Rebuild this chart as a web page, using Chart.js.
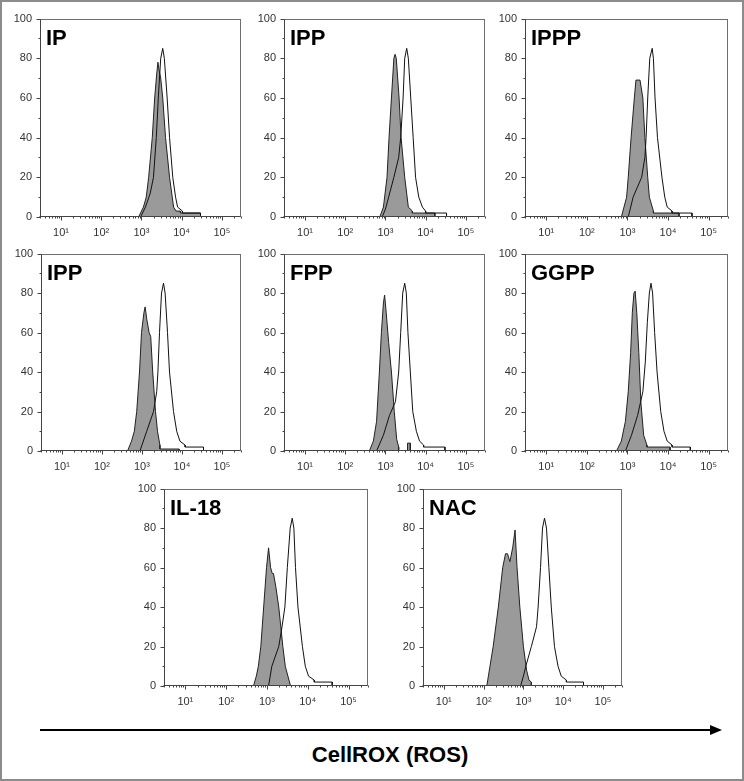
<!DOCTYPE html>
<html><head><meta charset="utf-8">
<script src="https://cdn.jsdelivr.net/npm/chart.js@4.4.1/dist/chart.umd.min.js"></script>
<style>
html,body{margin:0;padding:0;background:#fff;}
#frame{position:relative;width:744px;height:781px;background:#fff;overflow:hidden;}
#frame canvas{position:absolute;}
#border{position:absolute;left:0;top:0;width:744px;height:781px;box-sizing:border-box;border:2px solid #8c8c8c;pointer-events:none;}
#xtitle{position:absolute;left:0;width:780px;top:742px;text-align:center;font:bold 22px Arial,"Liberation Sans",sans-serif;color:#000;}
#arrow{position:absolute;left:0;top:0;}
</style></head><body>
<div id="frame">
<svg id="arrow" width="744" height="781"><line x1="40" y1="730" x2="712" y2="730" stroke="#000" stroke-width="2"/><polygon points="710,725 722,730 710,735" fill="#000"/></svg>
<div id="xtitle">CellROX (ROS)</div>
<div id="border"></div>
</div>
<script>
// ---- data (x in log10 units of fluorescence, y in % of max) ----
const panelTitles = ['IP','IPP','IPPP','IPP','FPP','GGPP','IL-18','NAC'];
const xTickExponents = [1,2,3,4,5];
const yTickValues = [0,20,40,60,80,100];

const ipGrayLog = [2.93,3.05,3.12,3.18,3.27,3.33,3.38,3.41,3.44,3.48,3.53,3.60,3.70,3.80,3.86,3.97,3.97,4.47,4.47];
const ipGrayPct = [0,5,10,20,40,60,72,78,74,70,60,40,20,5,3,3,2,2,0];
const ipOpenLog = [2.98,3.10,3.22,3.30,3.37,3.42,3.48,3.53,3.57,3.64,3.70,3.78,3.85,3.90,4.02,4.02,4.47,4.47];
const ipOpenPct = [0,5,12,20,40,60,80,85,80,60,40,20,10,5,3,2,2,0];

const ippGrayLog = [2.86,2.95,3.04,3.09,3.15,3.21,3.24,3.27,3.34,3.39,3.48,3.57,3.67,3.67,4.23,4.23];
const ippGrayPct = [0,5,20,40,60,80,82,80,60,40,20,5,3,2,2,0];
const ippOpenLog = [2.92,3.00,3.08,3.21,3.33,3.38,3.44,3.48,3.53,3.57,3.63,3.69,3.75,3.83,3.92,4.00,4.00,4.52,4.52];
const ippOpenPct = [0,4,10,20,30,40,60,80,85,80,60,40,20,10,5,3,2,2,0];

const ipppGrayLog = [2.85,2.98,3.02,3.09,3.17,3.21,3.31,3.38,3.43,3.50,3.54,3.64,3.64,4.27,4.27];
const ipppGrayPct = [0,10,20,40,60,69,69,60,40,20,10,3,2,2,0];
const ipppOpenLog = [3.02,3.14,3.35,3.43,3.46,3.50,3.55,3.61,3.64,3.68,3.74,3.85,3.92,3.98,4.10,4.10,4.59,4.59];
const ipppOpenPct = [0,10,20,30,40,60,80,85,80,60,40,20,10,5,3,2,2,0];

const ipp2GrayLog = [2.64,2.74,2.81,2.87,2.94,2.99,3.05,3.08,3.12,3.18,3.22,3.27,3.34,3.39,3.45,3.45,3.93,3.93];
const ipp2GrayPct = [0,5,10,20,40,60,70,73,67,60,58,40,20,10,3,1,1,0];
const ipp2OpenLog = [2.95,3.12,3.29,3.37,3.40,3.44,3.49,3.54,3.58,3.64,3.69,3.79,3.87,3.95,4.08,4.08,4.54,4.54];
const ipp2OpenPct = [0,10,20,30,40,60,80,85,80,60,40,20,10,5,3,2,2,0];

const fppGrayLog = [2.60,2.70,2.78,2.85,2.90,2.95,2.98,3.02,3.08,3.15,3.22,3.28,3.33,3.33,3.55,3.55,3.62,3.62];
const fppGrayPct = [0,5,15,40,60,75,79,70,55,40,20,6,2,0,0,4,4,0];
const fppOpenLog = [2.78,2.95,3.10,3.25,3.33,3.38,3.43,3.48,3.52,3.56,3.62,3.68,3.77,3.85,3.95,3.95,4.48,4.48];
const fppOpenPct = [0,8,18,25,40,60,80,85,80,60,40,20,10,5,3,2,2,0];

const ggppGrayLog = [2.73,2.85,2.95,3.02,3.08,3.12,3.16,3.19,3.23,3.28,3.33,3.40,3.48,3.48,4.05,4.05];
const ggppGrayPct = [0,5,15,30,50,70,80,81,70,50,25,8,3,2,2,0];
const ggppOpenLog = [2.95,3.10,3.25,3.38,3.44,3.49,3.54,3.58,3.62,3.67,3.73,3.82,3.90,3.98,4.10,4.10,4.55,4.55];
const ggppOpenPct = [0,8,18,30,45,65,80,85,80,60,40,20,10,5,3,2,2,0];

const il18GrayLog = [2.67,2.74,2.79,2.85,2.92,2.99,3.04,3.09,3.13,3.16,3.22,3.29,3.39,3.45,3.54,3.58];
const il18GrayPct = [0,5,10,20,40,60,70,60,57,57,50,40,20,10,3,0];
const il18OpenLog = [3.04,3.12,3.29,3.37,3.44,3.50,3.57,3.62,3.66,3.70,3.76,3.87,3.94,4.02,4.16,4.16,4.60,4.60];
const il18OpenPct = [0,10,20,30,40,60,80,85,80,60,40,20,10,5,3,2,2,0];

const nacGrayLog = [2.08,2.12,2.16,2.24,2.37,2.48,2.55,2.60,2.66,2.73,2.79,2.84,2.91,3.00,3.08,3.14,3.20,3.20];
const nacGrayPct = [0,5,10,20,40,60,67,67,63,70,79,60,40,20,8,3,2,0];
const nacOpenLog = [2.93,3.00,3.06,3.20,3.33,3.37,3.43,3.48,3.53,3.58,3.64,3.70,3.78,3.87,3.95,4.08,4.08,4.51,4.51];
const nacOpenPct = [0,5,10,20,30,40,60,80,85,80,60,40,20,10,5,3,2,2,0];

// ---- layout ----
const panelRects = [
  {x:40,y:16,w:201,h:201},{x:284,y:16,w:201,h:201},{x:525,y:16,w:203,h:201},
  {x:41,y:251,w:200,h:200},{x:284,y:251,w:201,h:200},{x:525,y:251,w:203,h:200},
  {x:164,y:486,w:204,h:200},{x:423,y:486,w:199,h:200}
];
const panelSeries = [
  [ipGrayLog,ipGrayPct,ipOpenLog,ipOpenPct],
  [ippGrayLog,ippGrayPct,ippOpenLog,ippOpenPct],
  [ipppGrayLog,ipppGrayPct,ipppOpenLog,ipppOpenPct],
  [ipp2GrayLog,ipp2GrayPct,ipp2OpenLog,ipp2OpenPct],
  [fppGrayLog,fppGrayPct,fppOpenLog,fppOpenPct],
  [ggppGrayLog,ggppGrayPct,ggppOpenLog,ggppOpenPct],
  [il18GrayLog,il18GrayPct,il18OpenLog,il18OpenPct],
  [nacGrayLog,nacGrayPct,nacOpenLog,nacOpenPct]
];

const FONT = 'Arial, "Liberation Sans", sans-serif';
Chart.defaults.font.family = FONT;
Chart.defaults.font.size = 11;
Chart.defaults.color = '#333';
const SUP = {1:'\u00b9',2:'\u00b2',3:'\u00b3',4:'\u2074',5:'\u2075'};
const X_MIN = 3, X_MAX = 300000;

function toPoints(logs, pcts){ return logs.map((l,i)=>({x:Math.pow(10,l), y:pcts[i]})); }

const framePlugin = {
  id:'frameTicks',
  afterDraw(chart, args, opts){
    const ctx = chart.ctx, a = chart.chartArea, xs = chart.scales.x, ys = chart.scales.y;
    ctx.save();
    ctx.strokeStyle = '#6e6e6e'; ctx.lineWidth = 1;
    const L = Math.round(a.left)+0.5, T = Math.round(a.top)+0.5, R = Math.round(a.right)-0.5, B = Math.round(a.bottom)-0.5;
    ctx.strokeRect(L, T, R-L, B-T);
    ctx.strokeStyle = '#444';
    ctx.beginPath(); ctx.moveTo(L-1,B); ctx.lineTo(R,B); ctx.moveTo(L,T); ctx.lineTo(L,B+1); ctx.stroke();
    ctx.beginPath();
    for(let e=0;e<=5;e++){
      for(let k=1;k<=9;k++){
        const v = k*Math.pow(10,e);
        if(v < X_MIN || v > X_MAX) continue;
        const px = Math.round(xs.getPixelForValue(v))+0.5;
        const len = (k===1)?4:2;
        ctx.moveTo(px,B); ctx.lineTo(px,B+len);
      }
    }
    for(let v=0; v<=100; v+=10){
      const py = Math.round(ys.getPixelForValue(v))+0.5;
      const len = (v%20===0)?4:2;
      ctx.moveTo(L,py); ctx.lineTo(L-len,py);
    }
    ctx.stroke();
    ctx.fillStyle = '#000';
    ctx.font = 'bold 22px ' + FONT;
    ctx.textBaseline = 'alphabetic'; ctx.textAlign = 'left';
    ctx.fillText(opts.title, a.left+6, a.top+26);
    ctx.restore();
  }
};

const frame = document.getElementById('frame');
const PAD_T = 12, PAD_R = 14, Y_W = 44, X_H = 38;

panelRects.forEach((r, i) => {
  const [gl, gp, ol, op] = panelSeries[i];
  const cv = document.createElement('canvas');
  cv.width = Y_W + r.w + PAD_R; cv.height = PAD_T + r.h + X_H;
  cv.style.left = (r.x - Y_W) + 'px'; cv.style.top = (r.y - PAD_T) + 'px';
  cv.style.width = cv.width + 'px'; cv.style.height = cv.height + 'px';
  frame.insertBefore(cv, document.getElementById('border'));
  new Chart(cv, {
    type:'line',
    data:{datasets:[
      {label:'Control', data:toPoints(ol,op), borderColor:'#111', borderWidth:1, fill:false, pointRadius:0, tension:0, order:0},
      {label:panelTitles[i], data:toPoints(gl,gp), borderColor:'#222', borderWidth:1, backgroundColor:'#9a9a9a', fill:'origin', pointRadius:0, tension:0, order:1}
    ]},
    options:{
      responsive:false, animation:false, devicePixelRatio:1,
      layout:{padding:{top:PAD_T,right:PAD_R,left:0,bottom:0}},
      plugins:{legend:{display:false}, tooltip:{enabled:false}, frameTicks:{title:panelTitles[i]}},
      scales:{
        x:{type:'logarithmic', min:X_MIN, max:X_MAX,
           afterFit(s){ s.height = X_H; },
           afterBuildTicks(s){ s.ticks = xTickExponents.map(e=>({value:Math.pow(10,e), major:true})); },
           ticks:{autoSkip:false, maxRotation:0, padding:9, color:'#333', font:{size:11},
                  callback(v){ const e = Math.round(Math.log10(v)); return '10' + SUP[e]; }},
           grid:{display:false, drawTicks:false}, border:{display:false}},
        y:{min:0, max:100,
           afterFit(s){ s.width = Y_W; },
           afterBuildTicks(s){ s.ticks = yTickValues.map(v=>({value:v})); },
           ticks:{padding:8, color:'#333', font:{size:11}},
           grid:{display:false, drawTicks:false}, border:{display:false}}
      }
    },
    plugins:[framePlugin]
  });
});
</script>
</body></html>
